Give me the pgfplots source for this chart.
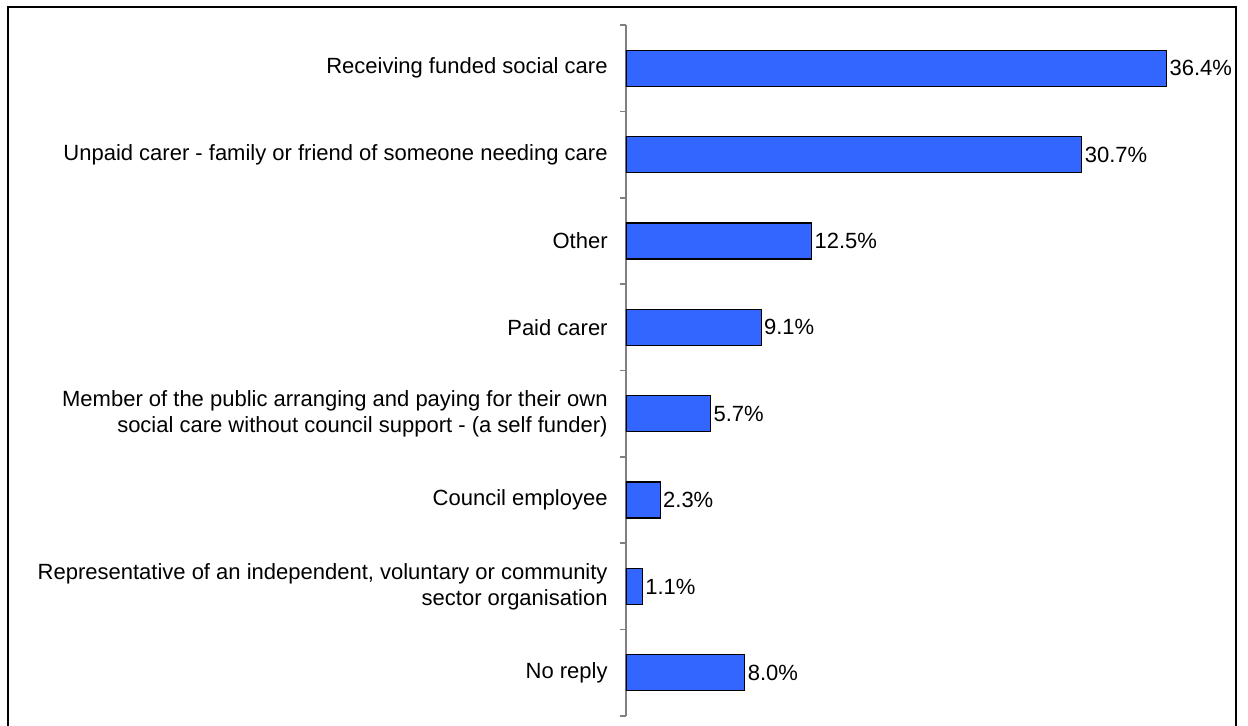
\documentclass[border=0pt]{standalone}
\usepackage{pgfplots}
\pgfplotsset{compat=1.18}
\usepackage{fontspec}
\setmainfont{Liberation Sans}
\definecolor{barblue}{HTML}{3366FF}
\begin{document}
\begin{tikzpicture}
\path[use as bounding box] (0pt,0pt) rectangle (624pt,363pt);
\draw[line width=1pt] (4pt,-3pt) -- (4pt,359.5pt) -- (618pt,359.5pt) -- (618pt,-3pt);
\begin{axis}[
  at={(313pt,5pt)}, anchor=south west,
  scale only axis, width=297pt, height=345.5pt,
  xmin=0, xmax=40, ymin=0.5, ymax=8.5, y dir=reverse,
  axis x line=none, axis y line=left,
  y axis line style={-, draw=black!50, line width=0.8pt},
  ytick={1,...,8}, major tick length=0pt,
  minor ytick={0.5,1.5,...,8.5}, minor tick length=3pt, tick align=outside,
  tick style={draw=black!50, line width=0.8pt},
  yticklabels={
    {Receiving funded social care},
    {Unpaid carer - family or friend of someone needing care},
    {Other},
    {Paid carer},
    {Member of the public arranging and paying for their own\\social care without council support - (a self funder)},
    {Council employee},
    {Representative of an independent, voluntary or community\\sector organisation},
    {No reply}},
  yticklabel style={align=right, font=\fontsize{11}{13}\selectfont, inner sep=0pt, xshift=-9pt},
  xbar, bar width=18pt,
  /pgf/number format/assume math mode=true,
  nodes near coords={\pgfmathprintnumber[fixed,fixed zerofill,precision=1]{\pgfplotspointmeta}\%},
  nodes near coords style={anchor=west, inner sep=1.2pt, font=\fontsize{11}{13}\selectfont, black},
]
\addplot[fill=barblue, draw=black, line width=0.6pt] coordinates {
  (36.4,1) (30.7,2) (12.5,3) (9.1,4) (5.7,5) (2.3,6) (1.1,7) (8.0,8)};
\end{axis}
\end{tikzpicture}
\end{document}
